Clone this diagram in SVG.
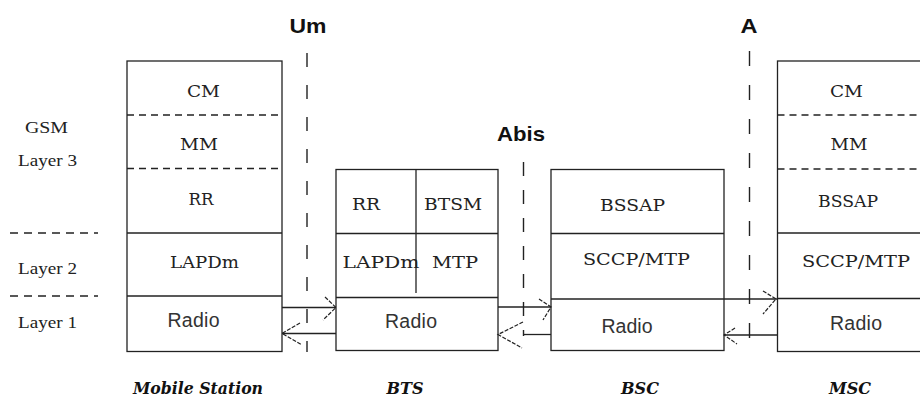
<svg xmlns="http://www.w3.org/2000/svg" width="920" height="406" viewBox="0 0 920 406">
<style>
.box{fill:#fff;stroke:#222;stroke-width:1.3}
.ln{stroke:#222;stroke-width:1.3;fill:none}
.dl{stroke:#222;stroke-width:1.3;stroke-dasharray:7 5;fill:none}
.vd{stroke:#222;stroke-width:1.4;fill:none}
.ah{stroke:#222;stroke-width:1.2;fill:none;stroke-dasharray:4 1.5}
.s{font-family:"DejaVu Serif","Liberation Serif",serif;font-size:17px;fill:#222;text-anchor:middle}
.r{font-family:"Liberation Sans",Arial,sans-serif;font-size:19.5px;fill:#333;text-anchor:middle}
.l{font-family:"Liberation Serif","Times New Roman",serif;font-size:17px;fill:#222;text-anchor:middle}
.t{font-family:"Liberation Sans",Arial,sans-serif;font-size:21px;font-weight:bold;fill:#111;text-anchor:middle}
.b{font-family:"DejaVu Serif","Liberation Serif",serif;font-size:16px;font-weight:bold;font-style:italic;fill:#111;text-anchor:middle}
</style>
<rect width="920" height="406" fill="#fff"/>
<g id="layers">
<text class="l" x="46.5" y="133" textLength="43" lengthAdjust="spacingAndGlyphs">GSM</text>
<text class="l" x="47.5" y="166" textLength="59" lengthAdjust="spacingAndGlyphs">Layer 3</text>
<line class="ln" x1="10" y1="233" x2="98" y2="233" style="stroke-dasharray:8 6"/>
<text class="l" x="47.5" y="274" textLength="59" lengthAdjust="spacingAndGlyphs">Layer 2</text>
<line class="ln" x1="10" y1="296" x2="98" y2="296" style="stroke-dasharray:8 6"/>
<text class="l" x="47.5" y="328" textLength="59" lengthAdjust="spacingAndGlyphs">Layer 1</text>
</g>
<g id="interfaces">
<line class="vd" x1="307" y1="53" x2="307" y2="352" style="stroke-dasharray:14 18"/>
<text class="t" x="308" y="33" textLength="37" lengthAdjust="spacingAndGlyphs">Um</text>
<line class="vd" x1="523.5" y1="162" x2="523.5" y2="336" style="stroke-dasharray:14 14"/>
<text class="t" x="521" y="141" textLength="48" lengthAdjust="spacingAndGlyphs">Abis</text>
<line class="vd" x1="749.5" y1="51" x2="749.5" y2="352" style="stroke-dasharray:15 19"/>
<text class="t" x="749" y="33" textLength="17" lengthAdjust="spacingAndGlyphs">A</text>
</g>
<g id="ms">
<rect class="box" x="127" y="61" width="155" height="290.5"/>
<line class="dl" x1="127" y1="115" x2="282" y2="115"/>
<line class="dl" x1="127" y1="168.5" x2="282" y2="168.5"/>
<line class="ln" x1="127" y1="233" x2="282" y2="233"/>
<line class="ln" x1="127" y1="296" x2="282" y2="296"/>
<text class="s" x="203.5" y="97" textLength="33" lengthAdjust="spacingAndGlyphs">CM</text>
<text class="s" x="199" y="150" textLength="38" lengthAdjust="spacingAndGlyphs">MM</text>
<text class="s" x="201" y="205" textLength="25" lengthAdjust="spacingAndGlyphs">RR</text>
<text class="s" x="204.5" y="268" textLength="69" lengthAdjust="spacingAndGlyphs">LAPDm</text>
<text class="r" x="193.5" y="327" textLength="52">Radio</text>
<text class="b" x="198" y="394" textLength="130" lengthAdjust="spacingAndGlyphs">Mobile Station</text>
</g>
<g id="bts">
<rect class="box" x="336" y="169.5" width="162" height="181"/>
<line class="ln" x1="336" y1="233.5" x2="498" y2="233.5"/>
<line class="ln" x1="336" y1="297.5" x2="498" y2="297.5"/>
<line class="ln" x1="416" y1="169.5" x2="416" y2="293"/>
<text class="s" x="366" y="210" textLength="28" lengthAdjust="spacingAndGlyphs">RR</text>
<text class="s" x="453" y="210" textLength="58" lengthAdjust="spacingAndGlyphs">BTSM</text>
<text class="s" x="381" y="268" textLength="77" lengthAdjust="spacingAndGlyphs">LAPDm</text>
<text class="s" x="455" y="268" textLength="46" lengthAdjust="spacingAndGlyphs">MTP</text>
<text class="r" x="411" y="328" textLength="52">Radio</text>
<text class="b" x="405" y="394">BTS</text>
</g>
<g id="bsc">
<rect class="box" x="551" y="169.5" width="173" height="181"/>
<line class="ln" x1="551" y1="233.5" x2="724" y2="233.5"/>
<line class="ln" x1="551" y1="299" x2="724" y2="299"/>
<text class="s" x="632.5" y="211" textLength="65" lengthAdjust="spacingAndGlyphs">BSSAP</text>
<text class="s" x="636.5" y="265" textLength="107" lengthAdjust="spacingAndGlyphs">SCCP/MTP</text>
<text class="r" x="627" y="333" textLength="51">Radio</text>
<text class="b" x="640" y="394">BSC</text>
</g>
<g id="msc">
<rect class="box" x="777.5" y="61" width="160" height="290.5"/>
<line class="dl" x1="777.5" y1="115" x2="920" y2="115"/>
<line class="dl" x1="777.5" y1="169" x2="920" y2="169"/>
<line class="ln" x1="777.5" y1="233" x2="920" y2="233"/>
<line class="ln" x1="777.5" y1="298.5" x2="920" y2="298.5"/>
<text class="s" x="846.5" y="97" textLength="33" lengthAdjust="spacingAndGlyphs">CM</text>
<text class="s" x="849" y="150" textLength="37" lengthAdjust="spacingAndGlyphs">MM</text>
<text class="s" x="848" y="207" textLength="60" lengthAdjust="spacingAndGlyphs">BSSAP</text>
<text class="s" x="856" y="267" textLength="108" lengthAdjust="spacingAndGlyphs">SCCP/MTP</text>
<text class="r" x="856" y="330" textLength="52">Radio</text>
<text class="b" x="850" y="394">MSC</text>
</g>
<g id="connectors">
<line class="ln" x1="282" y1="307.5" x2="336" y2="307.5"/>
<polyline class="ah" points="325,297 336,307.5 323,320"/>
<line class="ln" x1="282" y1="333.5" x2="336" y2="333.5"/>
<polyline class="ah" points="300,323 282,333.5 302,345"/>
<line class="ln" x1="498" y1="307" x2="551" y2="307"/>
<polyline class="ah" points="539,299 551,307 543,320"/>
<line class="ln" x1="523" y1="334.5" x2="551" y2="334.5"/>
<polyline class="ah" points="523,322 498,334.5 522,348"/>
<line class="ln" x1="724" y1="299" x2="777" y2="299"/>
<polyline class="ah" points="763,291 776,299 763,314"/>
<line class="ln" x1="724" y1="335" x2="777.5" y2="335"/>
<polyline class="ah" points="735,328 724,335 737,344"/>
</g>
</svg>
